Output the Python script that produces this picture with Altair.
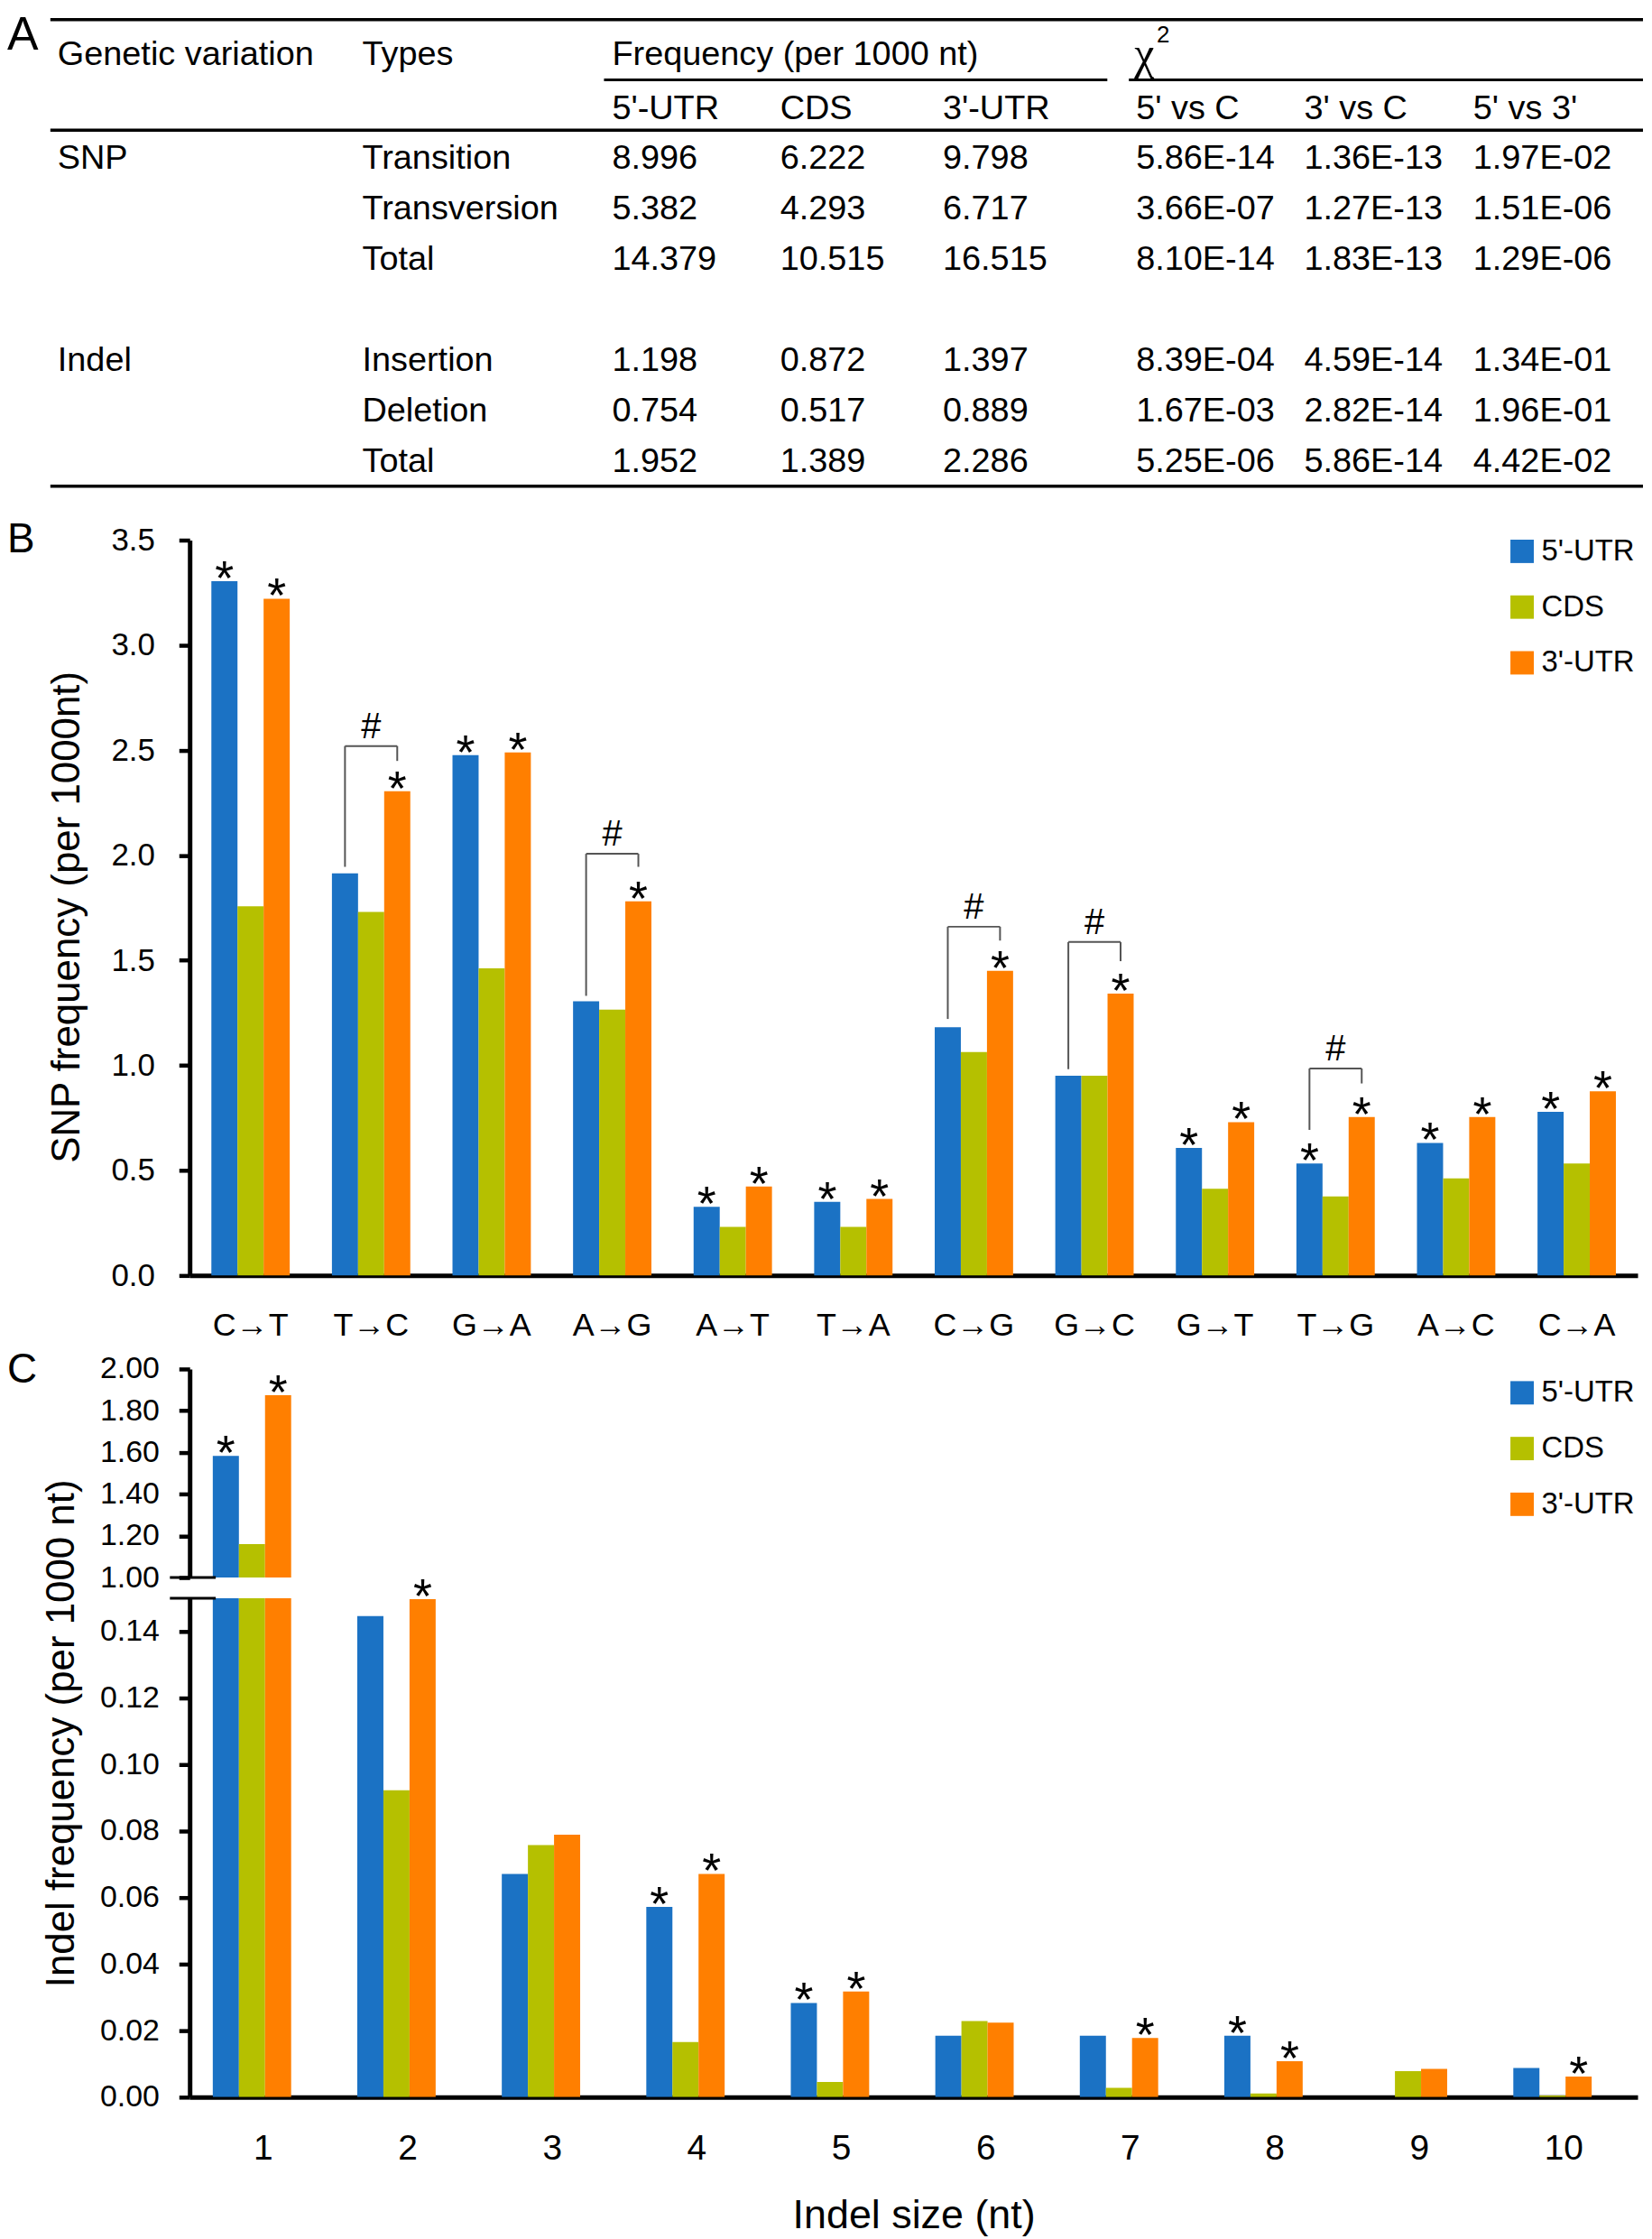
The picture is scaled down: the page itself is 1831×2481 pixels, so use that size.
import altair as alt
import pandas as pd

FONT = "Liberation Sans"
SERIES = ["5'-UTR", "CDS", "3'-UTR"]
COLORS = ["#1b72c4", "#b5c000", "#ff7f00"]
INK = "black"
BRACKET = "#555555"

# ---------------- Panel A: table ----------------
tbl_variation = ["SNP", "", "", "Indel", "", ""]
tbl_types = ["Transition", "Transversion", "Total", "Insertion", "Deletion", "Total"]
tbl_f5 = ["8.996", "5.382", "14.379", "1.198", "0.754", "1.952"]
tbl_fcds = ["6.222", "4.293", "10.515", "0.872", "0.517", "1.389"]
tbl_f3 = ["9.798", "6.717", "16.515", "1.397", "0.889", "2.286"]
tbl_p5c = ["5.86E-14", "3.66E-07", "8.10E-14", "8.39E-04", "1.67E-03", "5.25E-06"]
tbl_p3c = ["1.36E-13", "1.27E-13", "1.83E-13", "4.59E-14", "2.82E-14", "5.86E-14"]
tbl_p53 = ["1.97E-02", "1.51E-06", "1.29E-06", "1.34E-01", "1.96E-01", "4.42E-02"]
tbl_rows = ["r1", "r2", "r3", "r4", "r5", "r6"]
tbl_row_domain = ["r1", "r2", "r3", "gap", "r4", "r5", "r6"]
hdr_top = ["Genetic variation", "Types", "Frequency (per 1000 nt)"]
hdr_sub = ["5'-UTR", "CDS", "3'-UTR", "5' vs C", "3' vs C", "5' vs 3'"]

# ---------------- Panel B: SNP ----------------
snp_types = ["C→T", "T→C", "G→A", "A→G", "A→T", "T→A",
             "C→G", "G→C", "G→T", "T→G", "A→C", "C→A"]
snp_5utr = [3.305, 1.914, 2.477, 1.305, 0.327, 0.351, 1.182, 0.951, 0.607, 0.533, 0.631, 0.779]
snp_cds = [1.757, 1.730, 1.462, 1.265, 0.231, 0.231, 1.064, 0.951, 0.413, 0.376, 0.462, 0.533]
snp_3utr = [3.221, 2.305, 2.489, 1.781, 0.423, 0.364, 1.450, 1.342, 0.730, 0.754, 0.754, 0.877]
snp_star_5utr = [1, 0, 1, 0, 1, 1, 0, 0, 1, 1, 1, 1]
snp_star_3utr = [1, 1, 1, 1, 1, 1, 1, 1, 1, 1, 1, 1]
br_types = ["T→C", "A→G", "C→G", "G→C", "T→G"]
br_left = [1.945, 1.331, 1.221, 0.982, 0.693]
br_top = [2.520, 2.007, 1.660, 1.587, 0.985]
br_right = [2.449, 1.945, 1.594, 1.496, 0.914]

# ---------------- Panel C: Indel ----------------
ind_sizes = ["1", "2", "3", "4", "5", "6", "7", "8", "9", "10"]
ind_5utr = [1.583, 0.1446, 0.0671, 0.0572, 0.0283, 0.0185, 0.0185, 0.0185, 0.0, 0.0088]
ind_cds = [1.160, 0.0923, 0.0758, 0.0166, 0.0046, 0.0229, 0.0028, 0.0011, 0.0078, 0.0005]
ind_3utr = [1.874, 0.1497, 0.0789, 0.0671, 0.0318, 0.0224, 0.0178, 0.0108, 0.0085, 0.0062]
ind_star_5utr = [1, 0, 0, 1, 1, 0, 0, 1, 0, 0]
ind_star_3utr = [1, 1, 0, 1, 1, 0, 1, 1, 0, 1]

# ---------------- layout constants ----------------
W = 1611
COL_X = [-147, 192, 470, 657, 838, 1053, 1240, 1428]
one = pd.DataFrame({"k": [0]})


def long_df(cats, vals):
    rows = []
    for i, c in enumerate(cats):
        for s, v in zip(SERIES, vals):
            rows.append({"cat": c, "series": s, "value": v[i]})
    return pd.DataFrame(rows)


def star_df(cats, v5, v3, s5, s3):
    rows = []
    for i, c in enumerate(cats):
        if s5[i]:
            rows.append({"cat": c, "series": SERIES[0], "value": v5[i]})
        if s3[i]:
            rows.append({"cat": c, "series": SERIES[2], "value": v3[i]})
    return pd.DataFrame(rows)


def label(txt, x, y, size=46):
    return alt.Chart(one).mark_text(text=txt, font=FONT, fontSize=size, align="left",
                                    baseline="top", color=INK).encode(
        x=alt.value(x), y=alt.value(y))


def hrule(x0, x1, y, w):
    return alt.Chart(one).mark_rule(color=INK, strokeWidth=w).encode(
        x=alt.value(x0), x2=alt.value(x1), y=alt.value(y))


# ================= Panel A =================
tbl = pd.DataFrame({
    "row": tbl_rows, "variation": tbl_variation, "types": tbl_types,
    "f5": tbl_f5, "fcds": tbl_fcds, "f3": tbl_f3,
    "p5c": tbl_p5c, "p3c": tbl_p3c, "p53": tbl_p53,
})
yrow = alt.Y("row:N", scale=alt.Scale(domain=tbl_row_domain, range=[155, 492], padding=0), axis=None)
TFS = 38
a_layers = [label("A", -203, -8, 52)]
for field, x in zip(["variation", "types", "f5", "fcds", "f3", "p5c", "p3c", "p53"], COL_X):
    a_layers.append(
        alt.Chart(tbl).mark_text(align="left", baseline="middle", font=FONT, fontSize=TFS, color=INK)
        .encode(x=alt.value(x), y=yrow, text=f"{field}:N"))
for txt, x in zip(hdr_top, COL_X[:3]):
    a_layers.append(alt.Chart(one).mark_text(text=txt, align="left", baseline="middle", font=FONT,
                                             fontSize=TFS, color=INK).encode(x=alt.value(x), y=alt.value(39)))
for txt, x in zip(hdr_sub, COL_X[2:]):
    a_layers.append(alt.Chart(one).mark_text(text=txt, align="left", baseline="middle", font=FONT,
                                             fontSize=TFS, color=INK).encode(x=alt.value(x), y=alt.value(100)))
a_layers.append(alt.Chart(one).mark_text(text="χ", align="left", baseline="alphabetic",
                                         font="Liberation Serif", fontSize=50, color=INK)
                .encode(x=alt.value(1051), y=alt.value(54)))
a_layers.append(alt.Chart(one).mark_text(text="2", align="left", baseline="middle",
                                         font=FONT, fontSize=26, color=INK)
                .encode(x=alt.value(1076), y=alt.value(17)))
a_layers += [
    hrule(-155, 1617, 0, 3.5),
    hrule(461, 1021, 67, 3),
    hrule(1045, 1617, 67, 3),
    hrule(-155, 1617, 123, 3.5),
    hrule(-155, 1617, 519, 3.5),
]
chartA = alt.layer(*a_layers).properties(width=W, height=556)

# ================= Panel B =================
bdf = long_df(snp_types, [snp_5utr, snp_cds, snp_3utr])
bstar = star_df(snp_types, snp_5utr, snp_3utr, snp_star_5utr, snp_star_3utr)
blegs = pd.DataFrame(
    [{"cat": c, "series": SERIES[0], "y0": l, "top": t} for c, l, t in zip(br_types, br_left, br_top)] +
    [{"cat": c, "series": SERIES[2], "y0": r, "top": t} for c, r, t in zip(br_types, br_right, br_top)])
bbr = pd.DataFrame({"cat": br_types, "top": br_top})

AXB_X = alt.Axis(title=None, labelAngle=0, ticks=False, tickSize=0, domainWidth=5, domainColor=INK,
                 labelFontSize=36, labelPadding=38, labelColor=INK, labelFont=FONT)
AXB_Y = alt.Axis(values=[0, 0.5, 1, 1.5, 2, 2.5, 3, 3.5], format=".1f", title="SNP frequency (per 1000nt)",
                 grid=False, domainWidth=5, domainColor=INK, tickWidth=4.5, tickColor=INK, tickSize=12,
                 labelFontSize=35, labelPadding=27, labelColor=INK, labelFont=FONT,
                 titleFontSize=44, titleFont=FONT, titleFontWeight="normal", titleColor=INK,
                 titleX=-114, titleY=419)
SC_BX = alt.Scale(domain=snp_types, paddingInner=0.35, paddingOuter=0.18)
SC_BY = alt.Scale(domain=[0, 3.5], nice=False)
XOFF = alt.XOffset("series:N", sort=SERIES, scale=alt.Scale(domain=SERIES))


def bx():
    return alt.X("cat:N", sort=snp_types, scale=SC_BX, axis=AXB_X)


def by(f):
    return alt.Y(f"{f}:Q", scale=SC_BY, axis=AXB_Y)


legB = alt.Legend(orient="none", legendX=1466, legendY=-4, title=None, symbolType="square",
                  symbolSize=676, symbolStrokeWidth=0, labelFontSize=33, labelFont=FONT,
                  labelColor=INK, rowPadding=28, labelOffset=5, padding=0)
b_bars = alt.Chart(bdf).mark_bar().encode(
    x=bx(), xOffset=XOFF, y=by("value"),
    color=alt.Color("series:N", sort=SERIES, scale=alt.Scale(domain=SERIES, range=COLORS), legend=legB))
b_stars = alt.Chart(bstar).mark_text(text="*", font=FONT, fontSize=54, baseline="alphabetic", dy=15,
                                     color=INK).encode(x=bx(), xOffset=XOFF, y=by("value"))
b_legs = alt.Chart(blegs).mark_rule(color=BRACKET, strokeWidth=2).encode(
    x=bx(), xOffset=XOFF, y=by("y0"), y2="top:Q")
b_tops = alt.Chart(bbr).mark_tick(orient="horizontal", size=58, thickness=2, color=BRACKET, opacity=1).encode(
    x=bx(), y=by("top"))
b_hash = alt.Chart(bbr).mark_text(text="#", font=FONT, fontSize=40, baseline="alphabetic", dy=-9,
                                  color=INK).encode(x=bx(), y=by("top"))
chartB = alt.layer(b_bars, b_legs, b_tops, b_stars, b_hash, label("B", -203, -22)).properties(
    width=W, height=818)

# ================= Panel C =================
cdf = long_df(ind_sizes, [ind_5utr, ind_cds, ind_3utr])
cstar = star_df(ind_sizes, ind_5utr, ind_3utr, ind_star_5utr, ind_star_3utr)
cstar_hi = cstar[cstar["value"] >= 1.0]
cstar_lo = cstar[cstar["value"] < 1.0]

SC_CX = alt.Scale(domain=ind_sizes, paddingInner=0.30, paddingOuter=0.16)
AXC_X = alt.Axis(title="Indel size (nt)", labelAngle=0, ticks=False, tickSize=0, domainWidth=5,
                 domainColor=INK, labelFontSize=39, labelPadding=38, labelColor=INK, labelFont=FONT,
                 titleFontSize=45, titleFont=FONT, titleFontWeight="normal", titleColor=INK,
                 titlePadding=32)
AXC_YU = alt.Axis(values=[1.0, 1.2, 1.4, 1.6, 1.8, 2.0], format=".2f", title=None, grid=False,
                  domainWidth=5, domainColor=INK, tickWidth=4.5, tickColor=INK, tickSize=12,
                  labelFontSize=34, labelPadding=22, labelColor=INK, labelFont=FONT)
AXC_YL = alt.Axis(values=[0, 0.02, 0.04, 0.06, 0.08, 0.10, 0.12, 0.14], format=".2f",
                  title="Indel frequency (per 1000 nt)", grid=False,
                  domainWidth=5, domainColor=INK, tickWidth=4.5, tickColor=INK, tickSize=12,
                  labelFontSize=34, labelPadding=22, labelColor=INK, labelFont=FONT,
                  titleFontSize=44, titleFont=FONT, titleFontWeight="normal", titleColor=INK,
                  titleX=-120, titleY=150)
SC_CYU = alt.Scale(domain=[1.0, 2.0], range=[313, 81], nice=False, zero=False)
SC_CYL = alt.Scale(domain=[0, 0.15], nice=False)
CSCALE = alt.Scale(domain=SERIES, range=COLORS)
legC = alt.Legend(orient="none", legendX=1466, legendY=91, title=None, symbolType="square",
                  symbolSize=676, symbolStrokeWidth=0, labelFontSize=33, labelFont=FONT,
                  labelColor=INK, rowPadding=28, labelOffset=5, padding=0)


def cxu():
    return alt.X("cat:N", sort=ind_sizes, scale=SC_CX, axis=None)


def cxl():
    return alt.X("cat:N", sort=ind_sizes, scale=SC_CX, axis=AXC_X)


cu_bars = alt.Chart(cdf).mark_bar(clip=True).encode(
    x=cxu(), xOffset=XOFF, y=alt.Y("value:Q", scale=SC_CYU, axis=AXC_YU),
    color=alt.Color("series:N", sort=SERIES, scale=CSCALE, legend=legC))
cu_stars = alt.Chart(cstar_hi).mark_text(text="*", font=FONT, fontSize=54, baseline="alphabetic", dy=15,
                                         color=INK).encode(
    x=cxu(), xOffset=XOFF, y=alt.Y("value:Q", scale=SC_CYU, axis=AXC_YU))
cu_break = alt.Chart(one).mark_rule(color=INK, strokeWidth=3).encode(
    x=alt.value(-22), x2=alt.value(29), y=alt.YDatum(1.0, type="quantitative", scale=SC_CYU, axis=AXC_YU))
chartCu = alt.layer(cu_bars, cu_stars, cu_break, label("C", -203, 60)).properties(width=W, height=313)

cl_bars = alt.Chart(cdf).mark_bar(clip=True).encode(
    x=cxl(), xOffset=XOFF, y=alt.Y("value:Q", scale=SC_CYL, axis=AXC_YL),
    color=alt.Color("series:N", sort=SERIES, scale=CSCALE, legend=None))
cl_stars = alt.Chart(cstar_lo).mark_text(text="*", font=FONT, fontSize=54, baseline="alphabetic", dy=15,
                                         color=INK).encode(
    x=cxl(), xOffset=XOFF, y=alt.Y("value:Q", scale=SC_CYL, axis=AXC_YL))
cl_break = alt.Chart(one).mark_rule(color=INK, strokeWidth=3).encode(
    x=alt.value(-22), x2=alt.value(29), y=alt.YDatum(0.15, type="quantitative", scale=SC_CYL, axis=AXC_YL))
chartCl = alt.layer(cl_bars, cl_stars, cl_break).properties(width=W, height=555)

chart = alt.vconcat(chartA, chartB, chartCu, chartCl, spacing=23, bounds="flush").resolve_scale(
    color="independent", x="independent", y="independent").resolve_legend(
    color="independent").properties(padding=0).configure(font=FONT).configure_view(
    stroke="transparent", strokeWidth=0)

chart.save("out.html", embed_options={"renderer": "svg", "actions": False})
